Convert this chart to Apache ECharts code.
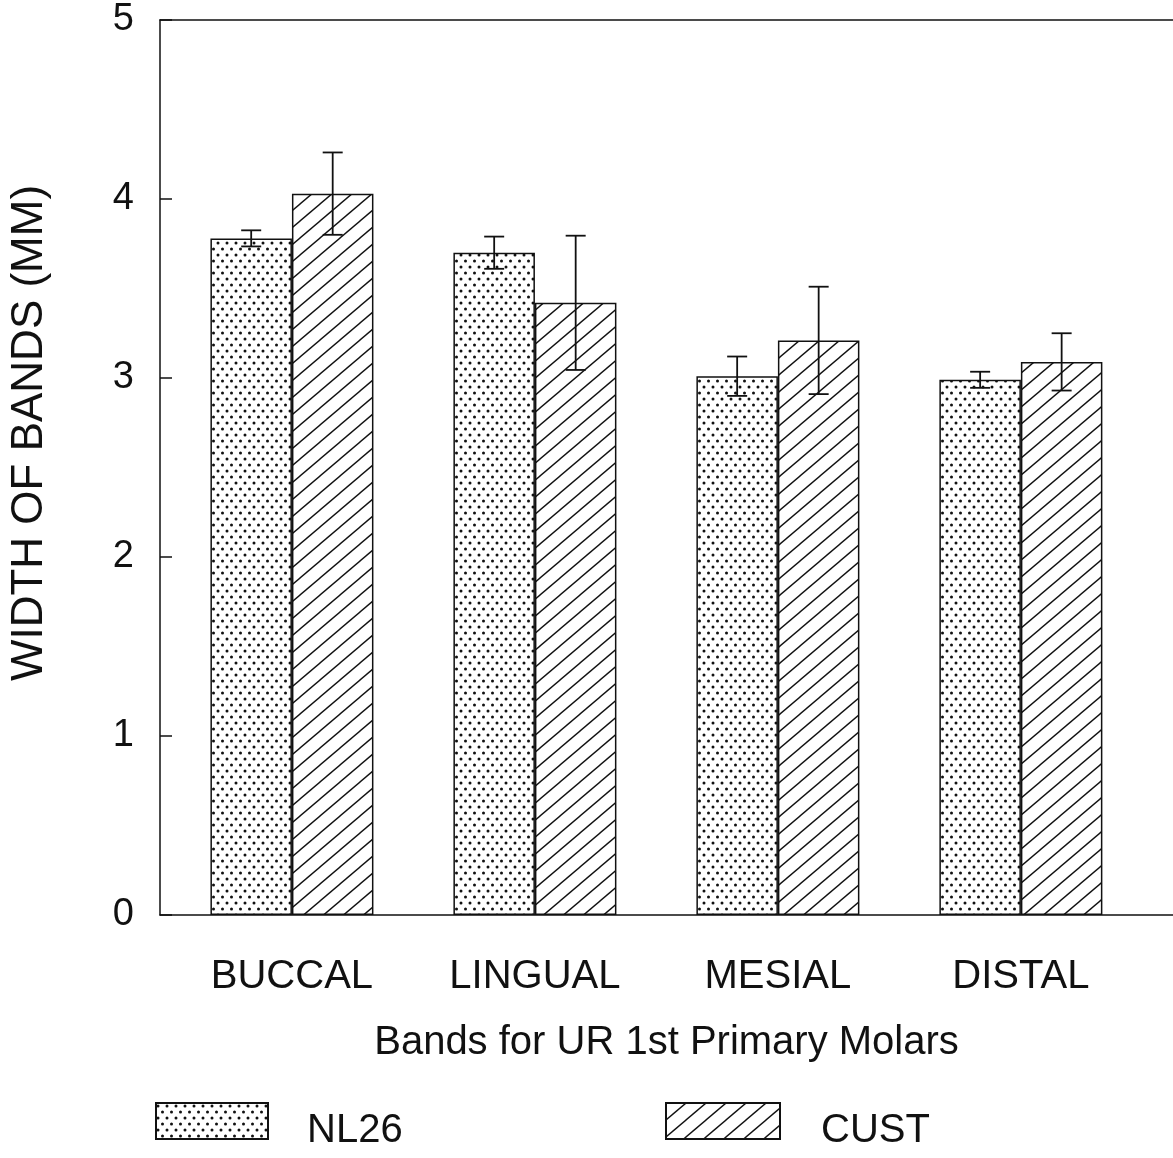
<!DOCTYPE html>
<html>
<head>
<meta charset="utf-8">
<script src="https://cdn.jsdelivr.net/npm/echarts@6/dist/echarts.min.js"></script>
<style>
html,body{margin:0;padding:0;background:#fff;}
#chart{width:1173px;height:1158px;}
</style>
</head>
<body>
<div id="chart"></div>
<script>
// ---- data ----
const categories = ['BUCCAL', 'LINGUAL', 'MESIAL', 'DISTAL'];
const catPos = [1, 2, 3, 4];
const nl26 = [3.78, 3.70, 3.01, 2.99];
const nl26Err = [0.045, 0.09, 0.11, 0.045];
const cust = [4.03, 3.42, 3.21, 3.09];
const custErr = [0.23, 0.375, 0.30, 0.16];
const yTicks = [0, 1, 2, 3, 4, 5];
const seriesNames = ['NL26', 'CUST'];
const xTitle = 'Bands for UR 1st Primary Molars';
const yTitle = 'WIDTH OF BANDS (MM)';

// ---- patterns ----
function dotPattern() {
  const c = document.createElement('canvas');
  c.width = 9; c.height = 12;
  const ctx = c.getContext('2d');
  ctx.fillStyle = '#fff'; ctx.fillRect(0, 0, 9, 12);
  ctx.fillStyle = '#111';
  [[2, 3], [6.5, 9]].forEach(p => { ctx.beginPath(); ctx.arc(p[0], p[1], 1.5, 0, Math.PI * 2); ctx.fill(); });
  return c;
}
function hatchPattern() {
  const w = 20, h = 17;
  const c = document.createElement('canvas');
  c.width = w; c.height = h;
  const ctx = c.getContext('2d');
  ctx.fillStyle = '#fff'; ctx.fillRect(0, 0, w, h);
  ctx.strokeStyle = '#111'; ctx.lineWidth = 1.4;
  [0, 1, 2].forEach(k => {
    ctx.beginPath();
    ctx.moveTo((k - 1) * w - w, h + h);
    ctx.lineTo((k - 1) * w + 2 * w, -h);
    ctx.stroke();
  });
  return c;
}
const dotFill = { image: dotPattern(), repeat: 'repeat' };
const hatchFill = { image: hatchPattern(), repeat: 'repeat' };

const FONT = '"Liberation Sans", Arial, Helvetica, sans-serif';
const BAR_W = 81.5;
const X_MIN = 0.457, X_MAX = 4.626;

function errSeries(vals, errs, sign) {
  return {
    type: 'custom',
    z: 10,
    silent: true,
    data: catPos.map((x, i) => [x, vals[i] - errs[i], vals[i] + errs[i]]),
    encode: { x: 0, y: [1, 2] },
    renderItem: function (params, api) {
      const lo = api.coord([api.value(0), api.value(1)]);
      const hi = api.coord([api.value(0), api.value(2)]);
      const x = lo[0] + sign * BAR_W / 2;
      const cap = 10;
      const style = { stroke: '#111', lineWidth: 1.8 };
      return {
        type: 'group',
        children: [
          { type: 'line', shape: { x1: x, y1: lo[1], x2: x, y2: hi[1] }, style: style },
          { type: 'line', shape: { x1: x - cap, y1: lo[1], x2: x + cap, y2: lo[1] }, style: style },
          { type: 'line', shape: { x1: x - cap, y1: hi[1], x2: x + cap, y2: hi[1] }, style: style }
        ]
      };
    }
  };
}

const legendText = { fontSize: 40, color: '#111', fontFamily: FONT, lineHeight: 20 };

const chart = echarts.init(document.getElementById('chart'));
chart.setOption({
  animation: false,
  backgroundColor: '#fff',
  textStyle: { fontFamily: FONT, color: '#111' },
  grid: { left: 160, top: 20, bottom: 243, right: 0 },
  xAxis: [{
    type: 'value',
    min: X_MIN,
    max: X_MAX,
    splitLine: { show: false },
    axisLine: { lineStyle: { color: '#111', width: 1.5 } },
    axisTick: { show: false },
    axisLabel: {
      customValues: catPos,
      formatter: v => categories[Math.round(v) - 1] || '',
      fontSize: 40, color: '#111', fontFamily: FONT, margin: 42
    },
    name: xTitle,
    nameLocation: 'middle',
    nameGap: 108,
    nameTextStyle: { fontSize: 40, color: '#111', fontFamily: FONT }
  }, {
    type: 'value',
    position: 'top',
    min: X_MIN,
    max: X_MAX,
    splitLine: { show: false },
    axisLine: { show: true, lineStyle: { color: '#111', width: 1.5 } },
    axisTick: { show: false },
    axisLabel: { show: false }
  }],
  yAxis: {
    type: 'value',
    min: 0, max: 5, interval: 1,
    splitLine: { show: false },
    axisLine: { show: true, lineStyle: { color: '#111', width: 1.5 } },
    axisTick: { show: true, inside: true, length: 12, lineStyle: { color: '#111', width: 1.5 } },
    axisLabel: { fontSize: 38, color: '#111', fontFamily: FONT, margin: 26, formatter: v => String(yTicks[v]) }
  },
  graphic: [{
    type: 'text',
    rotation: Math.PI / 2,
    x: 30, y: 433,
    style: { text: yTitle, font: '44px ' + FONT, fill: '#111', textAlign: 'center', textVerticalAlign: 'middle' }
  }],
  legend: [
    {
      data: [seriesNames[0]], left: 150, top: 1086, itemWidth: 112, itemHeight: 36,
      icon: 'rect',
      formatter: n => '\n' + n,
      textStyle: Object.assign({ padding: [0, 0, 0, 34] }, legendText)
    },
    {
      data: [seriesNames[1]], left: 660, top: 1086, itemWidth: 114, itemHeight: 36,
      icon: 'rect',
      formatter: n => '\n' + n,
      textStyle: Object.assign({ padding: [0, 0, 0, 36] }, legendText)
    }
  ],
  series: [
    {
      name: seriesNames[0], type: 'bar', barWidth: BAR_W, barGap: '0%',
      data: catPos.map((x, i) => [x, nl26[i]]),
      itemStyle: { color: dotFill, borderColor: '#111', borderWidth: 1.5 }
    },
    {
      name: seriesNames[1], type: 'bar', barWidth: BAR_W, barGap: '0%',
      data: catPos.map((x, i) => [x, cust[i]]),
      itemStyle: { color: hatchFill, borderColor: '#111', borderWidth: 1.5 }
    },
    errSeries(nl26, nl26Err, -1),
    errSeries(cust, custErr, 1)
  ]
});
</script>
</body>
</html>
